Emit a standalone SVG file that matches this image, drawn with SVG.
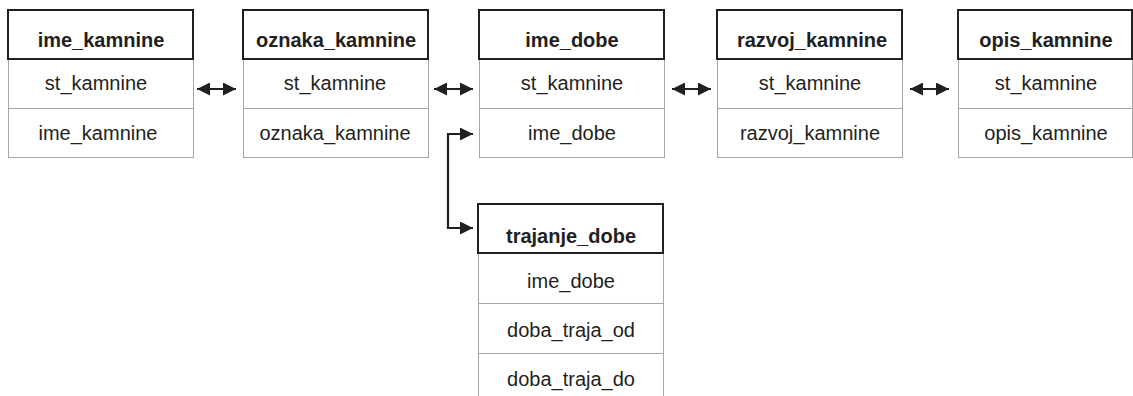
<svg xmlns="http://www.w3.org/2000/svg" width="1133" height="396" viewBox="0 0 1133 396">
  <style>
    .hdr { fill: #fff; stroke: #231f20; stroke-width: 2; }
    .row { fill: #fff; stroke: #a7a7a7; stroke-width: 1; }
    .ht { font-family: "Liberation Sans", Arial, sans-serif; font-size: 20px; font-weight: bold; fill: #231f20; text-anchor: middle; }
    .rt { font-family: "Liberation Sans", Arial, sans-serif; font-size: 20px; fill: #231f20; text-anchor: middle; }
    .ln { fill: none; stroke: #231f20; stroke-width: 2.2; }
  </style>
  <defs>
    <marker id="ah" viewBox="0 0 13 13" refX="13" refY="6.5" markerWidth="13" markerHeight="13" markerUnits="userSpaceOnUse" orient="auto-start-reverse">
      <path d="M0,0 L13,6.5 L0,13 Z" fill="#231f20"/>
    </marker>
  </defs>
  <rect width="1133" height="396" fill="#fff"/>

  <g id="ime_kamnine">
    <rect class="row" x="8.5" y="59.5" width="185" height="49"/>
    <rect class="row" x="8.5" y="108.5" width="185" height="49"/>
    <rect class="hdr" x="8" y="10" width="185" height="49"/>
    <text class="ht" x="101" y="47">ime_kamnine</text>
    <text class="rt" x="96" y="90">st_kamnine</text>
    <text class="rt" x="98" y="140">ime_kamnine</text>
  </g>

  <g id="oznaka_kamnine">
    <rect class="row" x="243.5" y="59.5" width="185" height="49"/>
    <rect class="row" x="243.5" y="108.5" width="185" height="49"/>
    <rect class="hdr" x="243" y="10" width="185" height="49"/>
    <text class="ht" x="336" y="47">oznaka_kamnine</text>
    <text class="rt" x="335" y="90">st_kamnine</text>
    <text class="rt" x="335" y="140">oznaka_kamnine</text>
  </g>

  <g id="ime_dobe">
    <rect class="row" x="479.5" y="59.5" width="185" height="49"/>
    <rect class="row" x="479.5" y="108.5" width="185" height="49"/>
    <rect class="hdr" x="479" y="10" width="185" height="49"/>
    <text class="ht" x="572" y="47">ime_dobe</text>
    <text class="rt" x="572" y="90">st_kamnine</text>
    <text class="rt" x="572" y="140">ime_dobe</text>
  </g>

  <g id="razvoj_kamnine">
    <rect class="row" x="717.5" y="59.5" width="185" height="49"/>
    <rect class="row" x="717.5" y="108.5" width="185" height="49"/>
    <rect class="hdr" x="717" y="10" width="185" height="49"/>
    <text class="ht" x="812" y="47">razvoj_kamnine</text>
    <text class="rt" x="810" y="90">st_kamnine</text>
    <text class="rt" x="810" y="140">razvoj_kamnine</text>
  </g>

  <g id="opis_kamnine">
    <rect class="row" x="958.5" y="59.5" width="174" height="49"/>
    <rect class="row" x="958.5" y="108.5" width="174" height="49"/>
    <rect class="hdr" x="958" y="10" width="174" height="49"/>
    <text class="ht" x="1046" y="47">opis_kamnine</text>
    <text class="rt" x="1046" y="90">st_kamnine</text>
    <text class="rt" x="1046" y="140">opis_kamnine</text>
  </g>

  <g id="trajanje_dobe">
    <rect class="row" x="478.5" y="253.5" width="185" height="50"/>
    <rect class="row" x="478.5" y="303.5" width="185" height="50"/>
    <rect class="row" x="478.5" y="353.5" width="185" height="50"/>
    <rect class="hdr" x="478" y="204" width="185" height="49"/>
    <text class="ht" x="571" y="243">trajanje_dobe</text>
    <text class="rt" x="571" y="288">ime_dobe</text>
    <text class="rt" x="571" y="337">doba_traja_od</text>
    <text class="rt" x="571" y="386">doba_traja_do</text>
  </g>

  <g id="connectors">
    <path class="ln" d="M197,89 H236" marker-start="url(#ah)" marker-end="url(#ah)"/>
    <path class="ln" d="M434,89 H473" marker-start="url(#ah)" marker-end="url(#ah)"/>
    <path class="ln" d="M672,89 H711" marker-start="url(#ah)" marker-end="url(#ah)"/>
    <path class="ln" d="M910,89 H949" marker-start="url(#ah)" marker-end="url(#ah)"/>
    <path class="ln" d="M473,134 H448 V228 H473" marker-start="url(#ah)" marker-end="url(#ah)"/>
  </g>
</svg>
